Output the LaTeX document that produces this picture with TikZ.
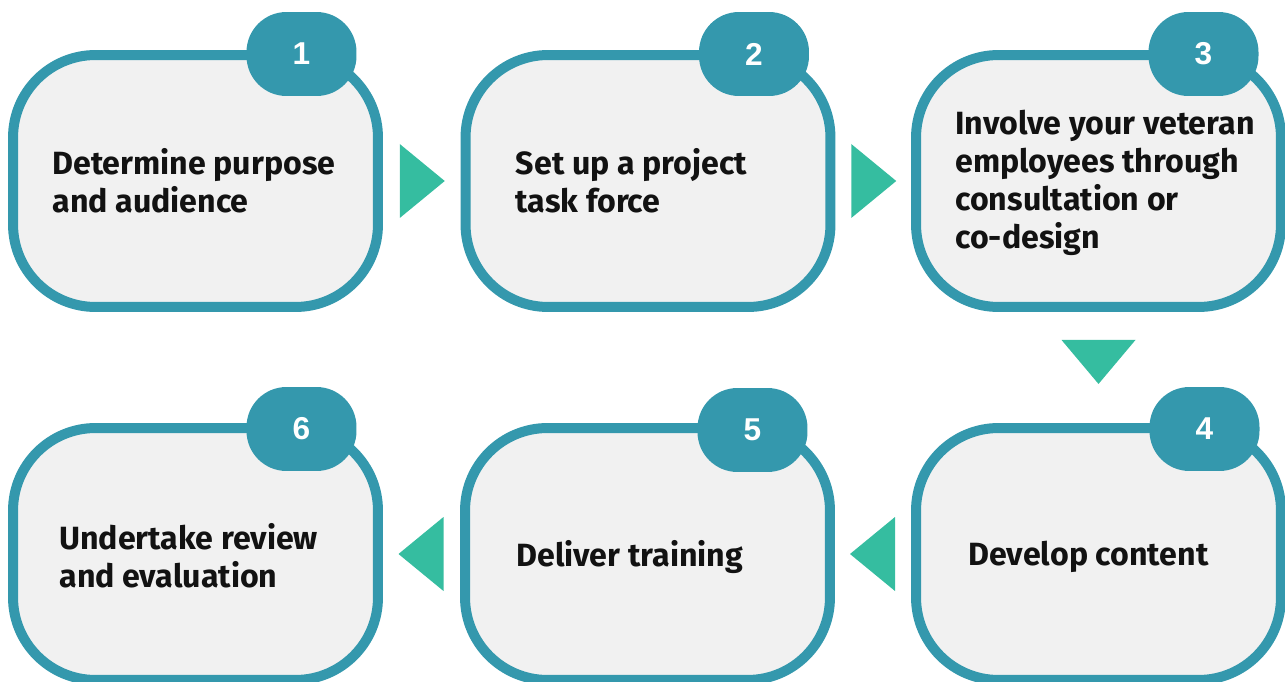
\documentclass[tikz,border=0pt]{standalone}
\usepackage{fontspec}
\setmainfont{Fira Sans}
\newfontfamily\numfont{Liberation Sans}
\usetikzlibrary{calc}
\definecolor{stepteal}{HTML}{3498AD}
\definecolor{stepgray}{HTML}{F1F1F1}
\definecolor{stepgreen}{HTML}{35BDA0}
\tikzset{
	stepbox/.style={draw=stepteal, fill=stepgray, line width=0.2cm, rounded corners=1.65cm,
		minimum width=7.3cm, minimum height=5.04cm, inner sep=0pt},
	badge/.style={fill=stepteal, rounded corners=0.8cm, minimum width=2.2cm, minimum height=1.68cm,
		inner sep=0pt, text=white, font=\numfont\bfseries\fontsize{18}{18}\selectfont},
	steptext/.style={anchor=west, align=left, inner sep=0pt, text=black!93,
		font=\bfseries\fontsize{18.3}{21.5}\selectfont},
	tri/.style={fill=stepgreen}
}
\def\triright(#1){\fill[tri] ($(#1)+(-22,-37)$) -- ++(45,37) -- ++(-45,37) -- cycle;}
\def\trileft(#1){\fill[tri] ($(#1)+(22,-37)$) -- ++(-45,37) -- ++(45,37) -- cycle;}
\def\tridown(#1){\fill[tri] ($(#1)+(-37,-22)$) -- ++(74,0) -- ++(-37,44) -- cycle;}

\begin{document}
\begin{tikzpicture}[x=0.02cm, y=-0.02cm]
		%%%%% START %%%%%
		\useasboundingbox (0, 0) rectangle (1285, 682);
		
		% top row
		\node[stepbox] (b1) at (195.5, 181) {};
		\node[stepbox] (b2) at (648, 181) {};
		\node[stepbox] (b3) at (1098.5, 181) {};
		
		% bottom row
		\node[stepbox] (b6) at (195.5, 554) {};
		\node[stepbox] (b5) at (647.5, 554) {};
		\node[stepbox] (b4) at (1098.5, 554) {};
		
		\node[badge] (n1) at ($(b1.center)+(106,-127)$) {1};
		\node[badge] (n2) at ($(b2.center)+(106,-127)$) {2};
		\node[badge] (n3) at ($(b3.center)+(105,-127)$) {3};
		\node[badge] (n6) at ($(b6.center)+(106,-125)$) {6};
		\node[badge] (n5) at ($(b5.center)+(105,-124)$) {5};
		\node[badge] (n4) at ($(b4.center)+(106,-125)$) {4};
		
		\node[steptext] (t1) at ($(b1.west)+(44,0)$) {Determine purpose\\and audience};
		\node[steptext] (t2) at ($(b2.west)+(55,0)$) {Set up a project\\task force};
		\node[steptext] (t3) at ($(b3.west)+(44,2)$) {Involve your veteran\\employees through\\consultation or\\co-design};
		\node[steptext] (t6) at ($(b6.west)+(51,2)$) {Undertake review\\and evaluation};
		\node[steptext] (t5) at ($(b5.west)+(56,3)$) {Deliver training};
		\node[steptext] (t4) at ($(b4.west)+(57,3)$) {Develop content};
		
		% arrows between the steps
		\coordinate (a12) at ($(b1.east)!0.5!(b2.west)$);
		\coordinate (a23) at ($(b2.east)!0.5!(b3.west)$);
		\coordinate (a34) at ($(b3.south)!0.45!(b4.north)$);
		\coordinate (a45) at ($(b5.east)!0.5!(b4.west)$);
		\coordinate (a56) at ($(b6.east)!0.5!(b5.west)$);
		\triright(a12);
		\triright(a23);
		\tridown(a34);
		\trileft(a45);
		\trileft(a56);
		%%%%% END %%%%%
	\end{tikzpicture}
\end{document}
